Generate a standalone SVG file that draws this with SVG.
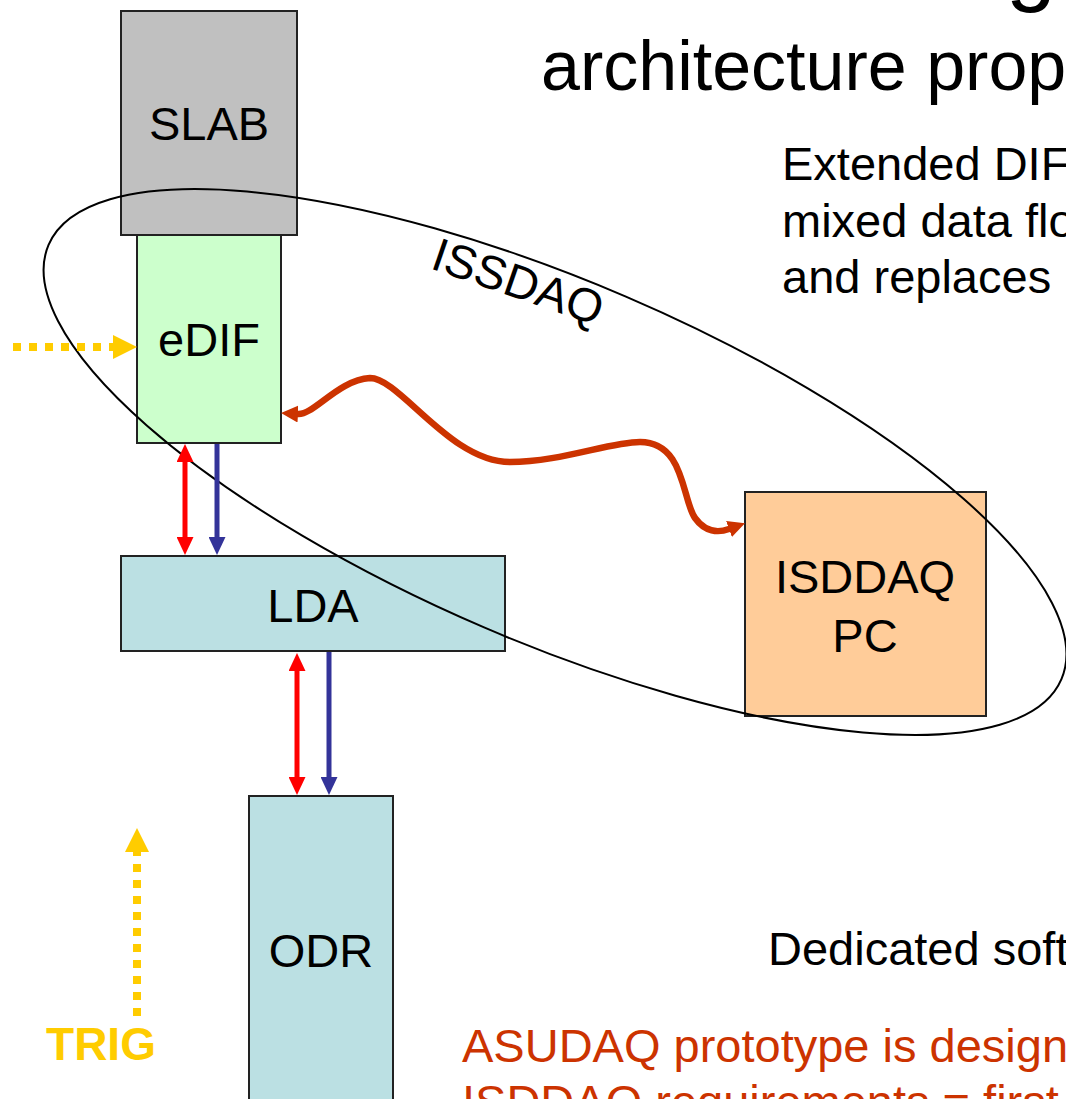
<svg xmlns="http://www.w3.org/2000/svg" width="1066" height="1099" viewBox="0 0 1066 1099">
  <style>
    text { font-family: "Liberation Sans", Arial, sans-serif; fill: #000; }
    .lbl { font-size: 47px; text-anchor: middle; }
    .body { font-size: 47px; }
    .title { font-size: 70px; }
    .box { stroke: #222; stroke-width: 2; }
    .red { stroke: #FF0000; stroke-width: 5; fill: none; }
    .blue { stroke: #333399; stroke-width: 5; fill: none; }
    .trig { stroke: #FFCC00; stroke-width: 8; stroke-dasharray: 8 8; fill: none; }
    .link { stroke: #CC3300; stroke-width: 6.5; fill: none; stroke-linecap: round; }
  </style>
  <defs>
    <marker id="ahRed" viewBox="0 -8.5 18 17" refX="0" refY="0" markerWidth="18" markerHeight="17" markerUnits="userSpaceOnUse" orient="auto-start-reverse">
      <path d="M0,-8.5 L18,0 L0,8.5 z" fill="#FF0000"/>
    </marker>
    <marker id="ahBlue" viewBox="0 -8.5 18 17" refX="0" refY="0" markerWidth="18" markerHeight="17" markerUnits="userSpaceOnUse" orient="auto-start-reverse">
      <path d="M0,-8.5 L18,0 L0,8.5 z" fill="#333399"/>
    </marker>
    <marker id="ahYellow" viewBox="0 -12 24 24" refX="0" refY="0" markerWidth="24" markerHeight="24" markerUnits="userSpaceOnUse" orient="auto-start-reverse">
      <path d="M0,-12 L24,0 L0,12 z" fill="#FFCC00"/>
    </marker>
    <marker id="ahLink" viewBox="0 -8.5 17 17" refX="0" refY="0" markerWidth="17" markerHeight="17" markerUnits="userSpaceOnUse" orient="auto-start-reverse">
      <path d="M0,-8.5 L17,0 L0,8.5 z" fill="#CC3300"/>
    </marker>
  </defs>

  <rect width="1066" height="1099" fill="#FFFFFF"/>

  <!-- title lines -->
  <text x="1006" y="-6" style="font-size:90px">g</text>
  <text class="title" x="541" y="90">architecture prop</text>

  <!-- side notes -->
  <text class="body" x="782" y="180">Extended DIF</text>
  <text class="body" x="782" y="237">mixed data flo</text>
  <text class="body" x="782" y="293">and replaces</text>
  <text class="body" x="768" y="965">Dedicated soft</text>
  <text class="body" x="462" y="1062" style="fill:#CC3300">ASUDAQ prototype is design</text>
  <text class="body" x="462" y="1118" style="fill:#CC3300">ISDDAQ requirements = first</text>

  <!-- nodes -->
  <g id="slab">
    <rect class="box" x="121" y="11" width="176" height="224" fill="#C0C0C0"/>
    <text class="lbl" x="209" y="140">SLAB</text>
  </g>
  <g id="edif">
    <rect class="box" x="137" y="235" width="144" height="208" fill="#CCFFCC"/>
    <text class="lbl" x="209" y="356">eDIF</text>
  </g>
  <g id="lda">
    <rect class="box" x="121" y="556" width="384" height="95" fill="#BBE0E3"/>
    <text class="lbl" x="313" y="622">LDA</text>
  </g>
  <g id="odr">
    <rect class="box" x="249" y="796" width="144" height="330" fill="#BBE0E3"/>
    <text class="lbl" x="321" y="967">ODR</text>
  </g>
  <g id="isddaq-pc">
    <rect class="box" x="745" y="492" width="241" height="224" fill="#FFCC99"/>
    <text class="lbl" x="865" y="593">ISDDAQ</text>
    <text class="lbl" x="865" y="652">PC</text>
  </g>
  <g id="trig">
    <text x="101" y="1060" style="font-size:46px;font-weight:bold;fill:#FFCC00;text-anchor:middle">TRIG</text>
  </g>

  <!-- ISSDAQ boundary -->
  <g id="issdaq">
    <ellipse cx="555" cy="462" rx="551" ry="180" transform="rotate(23.2 555 462)" fill="none" stroke="#000" stroke-width="2"/>
    <text class="body" transform="translate(429,268) rotate(19)">ISSDAQ</text>
  </g>

  <!-- connectors -->
  <g id="connectors">
    <line class="red" x1="185" y1="462" x2="185" y2="537" marker-start="url(#ahRed)" marker-end="url(#ahRed)"/>
    <line class="blue" x1="217" y1="444" x2="217" y2="537" marker-end="url(#ahBlue)"/>
    <line class="red" x1="297" y1="671" x2="297" y2="777" marker-start="url(#ahRed)" marker-end="url(#ahRed)"/>
    <line class="blue" x1="329" y1="652" x2="329" y2="777" marker-end="url(#ahBlue)"/>
    <line class="trig" x1="13" y1="347" x2="113" y2="347" marker-end="url(#ahYellow)"/>
    <line class="trig" x1="137" y1="1016" x2="137" y2="852" marker-end="url(#ahYellow)"/>
    <path class="link" d="M298,414 C314,415 338,380 370,378 C400,378 450,462 510,462 C560,462 610,442 640,442 C685,442 682,500 695,518 C705,532 718,533 729,529" marker-start="url(#ahLink)" marker-end="url(#ahLink)"/>
  </g>
</svg>
